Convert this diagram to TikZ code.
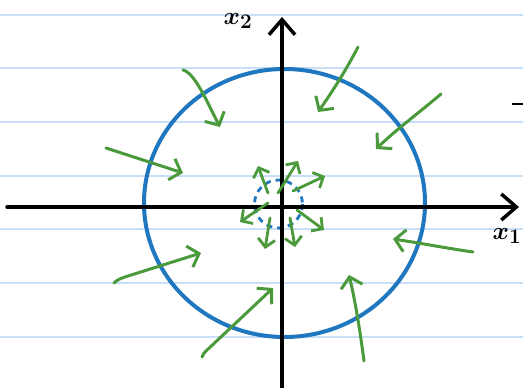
\documentclass[tikz,border=0pt]{standalone}
\usepackage{amsmath,bm}
\usetikzlibrary{arrows.meta}
\definecolor{rule}{HTML}{C9DEF8}
\definecolor{circblue}{HTML}{1F77C0}
\definecolor{vgreen}{HTML}{4A9A3C}
\tikzset{
  ruling/.style={draw=rule, line width=2.2pt},
  axis/.style={draw=black, line width=3.5pt, line cap=round, -{Straight Barb[length=15pt,width=26pt,line width=3.5pt]}},
  bigcirc/.style={draw=circblue, line width=4pt},
  smallcirc/.style={draw=circblue, line width=2.8pt, dash pattern=on 6pt off 5pt},
  flow/.style={draw=vgreen, line width=3pt, line cap=round, line join=round, -{Straight Barb[length=10pt,width=22pt,line width=3pt]}},
  sflow/.style={draw=vgreen, line width=2.8pt, line cap=round, line join=round, -{Straight Barb[length=8pt,width=17pt,line width=2.8pt]}},
  lab/.style={font=\fontsize{28}{32}\selectfont, inner sep=0pt}
}
\begin{document}
\begin{tikzpicture}[x=1pt,y=-1pt]
\useasboundingbox (0,0) rectangle (523,388);
\fill[white] (0,0) rectangle (523,388);
% notebook rulings
\foreach \yy in {15,68,122,176,229,283,337} \draw[ruling] (0,\yy) -- (523,\yy);
% circles
\draw[bigcirc] (284.5,203) ellipse [x radius=140.5, y radius=134];
\draw[smallcirc] (278.5,204) circle [radius=24];
% axes
\coordinate (xs) at (7,207); \coordinate (xe) at (519,207);
\coordinate (ys) at (282,388); \coordinate (ye) at (282,17);
\draw[axis] (xs) -- (xe);
\draw[axis] (ys) -- (ye);
\node[lab] (x2) at (238,21) {$\bm{x_2}$};
\node[lab] (x1) at (507,236) {$\bm{x_1}$};
\draw[black, line width=2.8pt] (512,104) -- (523,104);
% outer flow arrows
\draw[flow] (183,70) .. controls (195,73) and (207,102) .. (220,127);
\draw[flow] (106,148) -- (183,173);
\draw[flow] (358,47) .. controls (345,72) and (332,92) .. (318,112);
\draw[flow] (441,94) .. controls (420,112) and (398,128) .. (376,149);
\draw[flow] (114,283) .. controls (118,279) and (122,278) .. (128,276) -- (201,253);
\draw[flow] (202,357) .. controls (203,354) and (204,353) .. (206,351) -- (273,288);
\draw[flow] (473,252) .. controls (445,248) and (420,243) .. (393,239);
\draw[flow] (364,361) .. controls (360,330) and (355,300) .. (349,275);
% inner flow arrows
\draw[sflow] (268,193) -- (258,166);
\draw[sflow] (278,193) -- (298,161);
\draw[sflow] (293,191) -- (325,176);
\draw[sflow] (297,210) -- (324,230);
\draw[sflow] (290,218) -- (295,247);
\draw[sflow] (270,218) -- (265,249);
\draw[sflow] (268,203) -- (240,222);
\end{tikzpicture}
\end{document}
